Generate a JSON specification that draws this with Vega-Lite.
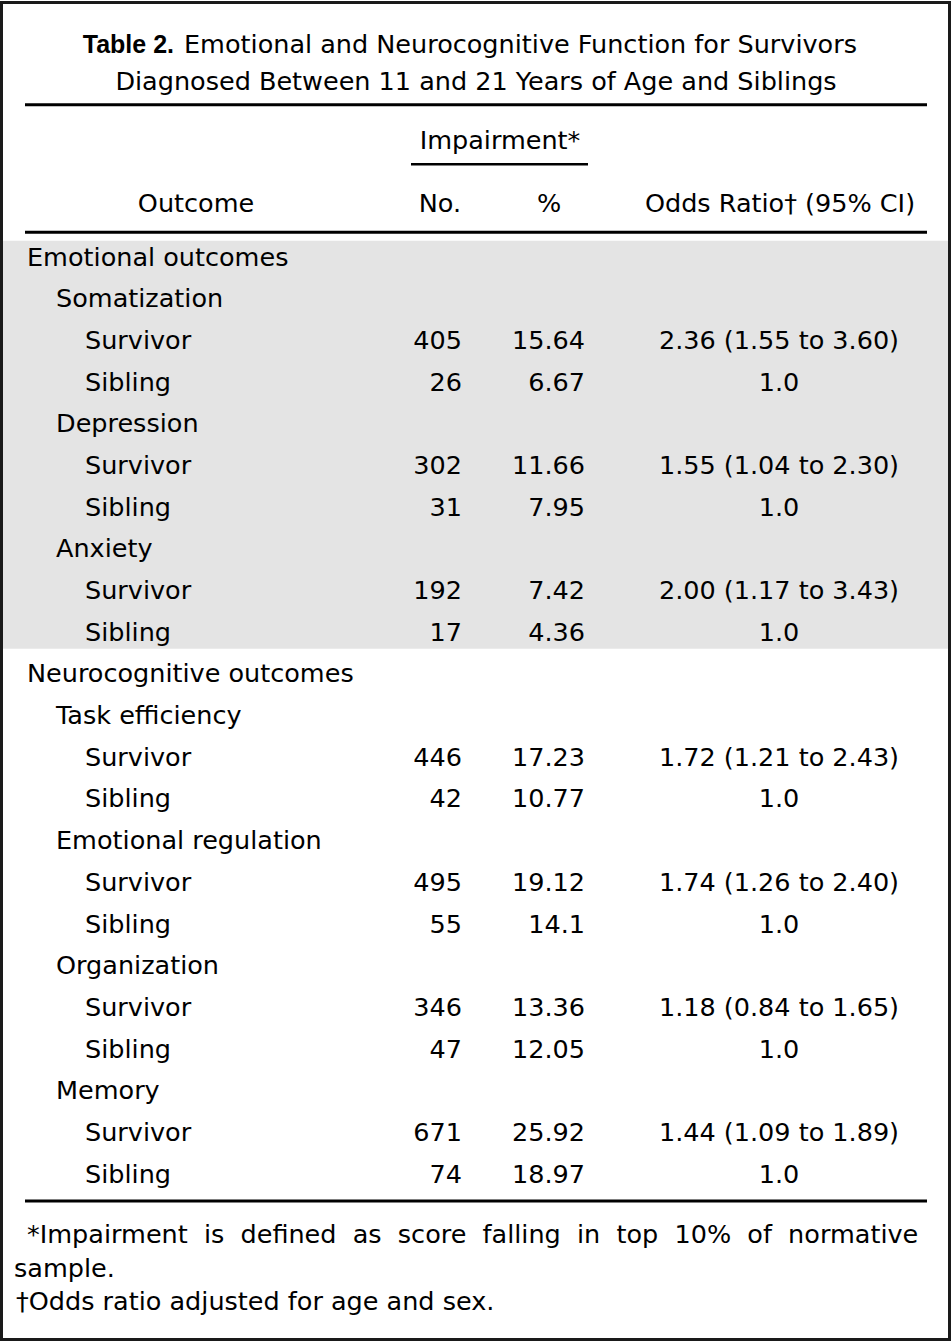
{
  "$schema": "https://vega.github.io/schema/vega-lite/v6.json",
  "width": 951,
  "height": 1341,
  "autosize": {"type": "fit", "contains": "padding"},
  "padding": 0,
  "background": "white",
  "config": {
    "view": {"stroke": null},
    "text": {"font": "DejaVu Sans", "fontSize": 25.5, "color": "#000", "baseline": "alphabetic"}
  },
  "datasets": {
    "table": [
      {"row": 0, "group": "Emotional", "level": 0, "label": "Emotional outcomes", "no": null, "pct": null, "or": null},
      {"row": 1, "group": "Emotional", "level": 1, "label": "Somatization", "no": null, "pct": null, "or": null},
      {"row": 2, "group": "Emotional", "level": 2, "label": "Survivor", "no": 405, "pct": 15.64, "or": "2.36 (1.55 to 3.60)"},
      {"row": 3, "group": "Emotional", "level": 2, "label": "Sibling", "no": 26, "pct": 6.67, "or": "1.0"},
      {"row": 4, "group": "Emotional", "level": 1, "label": "Depression", "no": null, "pct": null, "or": null},
      {"row": 5, "group": "Emotional", "level": 2, "label": "Survivor", "no": 302, "pct": 11.66, "or": "1.55 (1.04 to 2.30)"},
      {"row": 6, "group": "Emotional", "level": 2, "label": "Sibling", "no": 31, "pct": 7.95, "or": "1.0"},
      {"row": 7, "group": "Emotional", "level": 1, "label": "Anxiety", "no": null, "pct": null, "or": null},
      {"row": 8, "group": "Emotional", "level": 2, "label": "Survivor", "no": 192, "pct": 7.42, "or": "2.00 (1.17 to 3.43)"},
      {"row": 9, "group": "Emotional", "level": 2, "label": "Sibling", "no": 17, "pct": 4.36, "or": "1.0"},
      {"row": 10, "group": "Neurocognitive", "level": 0, "label": "Neurocognitive outcomes", "no": null, "pct": null, "or": null},
      {"row": 11, "group": "Neurocognitive", "level": 1, "label": "Task efficiency", "no": null, "pct": null, "or": null},
      {"row": 12, "group": "Neurocognitive", "level": 2, "label": "Survivor", "no": 446, "pct": 17.23, "or": "1.72 (1.21 to 2.43)"},
      {"row": 13, "group": "Neurocognitive", "level": 2, "label": "Sibling", "no": 42, "pct": 10.77, "or": "1.0"},
      {"row": 14, "group": "Neurocognitive", "level": 1, "label": "Emotional regulation", "no": null, "pct": null, "or": null},
      {"row": 15, "group": "Neurocognitive", "level": 2, "label": "Survivor", "no": 495, "pct": 19.12, "or": "1.74 (1.26 to 2.40)"},
      {"row": 16, "group": "Neurocognitive", "level": 2, "label": "Sibling", "no": 55, "pct": 14.1, "or": "1.0"},
      {"row": 17, "group": "Neurocognitive", "level": 1, "label": "Organization", "no": null, "pct": null, "or": null},
      {"row": 18, "group": "Neurocognitive", "level": 2, "label": "Survivor", "no": 346, "pct": 13.36, "or": "1.18 (0.84 to 1.65)"},
      {"row": 19, "group": "Neurocognitive", "level": 2, "label": "Sibling", "no": 47, "pct": 12.05, "or": "1.0"},
      {"row": 20, "group": "Neurocognitive", "level": 1, "label": "Memory", "no": null, "pct": null, "or": null},
      {"row": 21, "group": "Neurocognitive", "level": 2, "label": "Survivor", "no": 671, "pct": 25.92, "or": "1.44 (1.09 to 1.89)"},
      {"row": 22, "group": "Neurocognitive", "level": 2, "label": "Sibling", "no": 74, "pct": 18.97, "or": "1.0"}
    ]
  },
  "data": {"name": "table"},
  "resolve": {"scale": {"x": "independent"}},
  "layer": [
    {
      "transform": [
        {"filter": "datum.group === 'Emotional'"},
        {"aggregate": [{"op": "min", "field": "row", "as": "r0"}, {"op": "max", "field": "row", "as": "r1"}], "groupby": ["group"]}
      ],
      "mark": {"type": "rect", "fill": "#e4e4e4", "yOffset": -25, "y2Offset": 8},
      "encoding": {
        "x": {"datum": 0, "type": "quantitative", "scale": {"domain": [0, 951], "nice": false, "zero": false}, "axis": null},
        "x2": {"datum": 951},
        "y": {"field": "r0", "type": "quantitative", "scale": {"domain": [-6.3549, 25.8034], "reverse": true, "nice": false, "zero": false}, "axis": null},
        "y2": {"field": "r1"}
      }
    },
    {
      "mark": {"type": "text", "align": "left"},
      "encoding": {
        "x": {"field": "level", "type": "quantitative", "scale": {"domain": [0, 2], "range": [27, 85], "nice": false, "zero": false}, "axis": null},
        "y": {"field": "row", "type": "quantitative", "scale": {"domain": [-6.3549, 25.8034], "reverse": true, "nice": false, "zero": false}, "axis": null},
        "text": {"field": "label", "type": "nominal"}
      }
    },
    {
      "transform": [{"filter": "datum.no != null"}],
      "mark": {"type": "text", "align": "right"},
      "encoding": {
        "x": {"datum": 462, "type": "quantitative", "scale": {"domain": [0, 951], "nice": false, "zero": false}, "axis": null},
        "y": {"field": "row", "type": "quantitative", "axis": null},
        "text": {"field": "no", "type": "nominal"}
      }
    },
    {
      "transform": [{"filter": "datum.pct != null"}],
      "mark": {"type": "text", "align": "right"},
      "encoding": {
        "x": {"datum": 585, "type": "quantitative", "scale": {"domain": [0, 951], "nice": false, "zero": false}, "axis": null},
        "y": {"field": "row", "type": "quantitative", "axis": null},
        "text": {"field": "pct", "type": "nominal"}
      }
    },
    {
      "transform": [{"filter": "datum.or != null"}],
      "mark": {"type": "text", "align": "center"},
      "encoding": {
        "x": {"datum": 779, "type": "quantitative", "scale": {"domain": [0, 951], "nice": false, "zero": false}, "axis": null},
        "y": {"field": "row", "type": "quantitative", "axis": null},
        "text": {"field": "or", "type": "nominal"}
      }
    },
    {
      "data": {"values": [{"t": "Table 2."}]},
      "mark": {"type": "text", "align": "right", "font": "Liberation Sans", "fontWeight": "bold", "fontSize": 25},
      "encoding": {
        "x": {"datum": 174, "type": "quantitative", "scale": {"domain": [0, 951], "nice": false, "zero": false}, "axis": null},
        "y": {"datum": -5.115, "type": "quantitative", "axis": null},
        "text": {"field": "t", "type": "nominal"}
      }
    },
    {
      "data": {"values": [{"t": "Emotional and Neurocognitive Function for Survivors"}]},
      "mark": {"type": "text", "align": "left"},
      "encoding": {
        "x": {"datum": 184, "type": "quantitative", "scale": {"domain": [0, 951], "nice": false, "zero": false}, "axis": null},
        "y": {"datum": -5.115, "type": "quantitative", "axis": null},
        "text": {"field": "t", "type": "nominal"}
      }
    },
    {
      "data": {"values": [{"t": "Diagnosed Between 11 and 21 Years of Age and Siblings"}]},
      "mark": {"type": "text", "align": "center"},
      "encoding": {
        "x": {"datum": 476, "type": "quantitative", "scale": {"domain": [0, 951], "nice": false, "zero": false}, "axis": null},
        "y": {"datum": -4.213, "type": "quantitative", "axis": null},
        "text": {"field": "t", "type": "nominal"}
      }
    },
    {
      "data": {"values": [{"t": "Impairment*"}]},
      "mark": {"type": "text", "align": "center"},
      "encoding": {
        "x": {"datum": 500, "type": "quantitative", "scale": {"domain": [0, 951], "nice": false, "zero": false}, "axis": null},
        "y": {"datum": -2.806, "type": "quantitative", "axis": null},
        "text": {"field": "t", "type": "nominal"}
      }
    },
    {
      "data": {"values": [{"t": "Outcome"}]},
      "mark": {"type": "text", "align": "center"},
      "encoding": {
        "x": {"datum": 196, "type": "quantitative", "scale": {"domain": [0, 951], "nice": false, "zero": false}, "axis": null},
        "y": {"datum": -1.295, "type": "quantitative", "axis": null},
        "text": {"field": "t", "type": "nominal"}
      }
    },
    {
      "data": {"values": [{"t": "No."}]},
      "mark": {"type": "text", "align": "right"},
      "encoding": {
        "x": {"datum": 461, "type": "quantitative", "scale": {"domain": [0, 951], "nice": false, "zero": false}, "axis": null},
        "y": {"datum": -1.295, "type": "quantitative", "axis": null},
        "text": {"field": "t", "type": "nominal"}
      }
    },
    {
      "data": {"values": [{"t": "%"}]},
      "mark": {"type": "text", "align": "center"},
      "encoding": {
        "x": {"datum": 549, "type": "quantitative", "scale": {"domain": [0, 951], "nice": false, "zero": false}, "axis": null},
        "y": {"datum": -1.295, "type": "quantitative", "axis": null},
        "text": {"field": "t", "type": "nominal"}
      }
    },
    {
      "data": {"values": [{"t": "Odds Ratio† (95% CI)"}]},
      "mark": {"type": "text", "align": "center"},
      "encoding": {
        "x": {"datum": 780, "type": "quantitative", "scale": {"domain": [0, 951], "nice": false, "zero": false}, "axis": null},
        "y": {"datum": -1.295, "type": "quantitative", "axis": null},
        "text": {"field": "t", "type": "nominal"}
      }
    },
    {
      "data": {"values": [{"y": -3.866, "x0": 25, "x1": 927, "w": "thick"}, {"y": -0.803, "x0": 25, "x1": 927, "w": "thick"}, {"y": 22.446, "x0": 25, "x1": 927, "w": "thick"}]},
      "mark": {"type": "rule", "color": "#000", "strokeWidth": 3},
      "encoding": {
        "x": {"field": "x0", "type": "quantitative", "scale": {"domain": [0, 951], "nice": false, "zero": false}, "axis": null},
        "x2": {"field": "x1"},
        "y": {"field": "y", "type": "quantitative", "axis": null}
      }
    },
    {
      "data": {"values": [{"y": -2.439, "x0": 411, "x1": 588}]},
      "mark": {"type": "rule", "color": "#000", "strokeWidth": 2.5},
      "encoding": {
        "x": {"field": "x0", "type": "quantitative", "scale": {"domain": [0, 951], "nice": false, "zero": false}, "axis": null},
        "x2": {"field": "x1"},
        "y": {"field": "y", "type": "quantitative", "axis": null}
      }
    },
    {
      "data": {"values": [{"t": "*Impairment \u00a0is \u00a0defined \u00a0as \u00a0score \u00a0falling \u00a0in \u00a0top \u00a010% \u00a0of \u00a0normative"}]},
      "mark": {"type": "text", "align": "left"},
      "encoding": {
        "x": {"datum": 27, "type": "quantitative", "scale": {"domain": [0, 951], "nice": false, "zero": false}, "axis": null},
        "y": {"datum": 23.441, "type": "quantitative", "axis": null},
        "text": {"field": "t", "type": "nominal"}
      }
    },
    {
      "data": {"values": [{"t": "sample."}]},
      "mark": {"type": "text", "align": "left"},
      "encoding": {
        "x": {"datum": 14, "type": "quantitative", "scale": {"domain": [0, 951], "nice": false, "zero": false}, "axis": null},
        "y": {"datum": 24.269, "type": "quantitative", "axis": null},
        "text": {"field": "t", "type": "nominal"}
      }
    },
    {
      "data": {"values": [{"t": "†Odds ratio adjusted for age and sex."}]},
      "mark": {"type": "text", "align": "left"},
      "encoding": {
        "x": {"datum": 16, "type": "quantitative", "scale": {"domain": [0, 951], "nice": false, "zero": false}, "axis": null},
        "y": {"datum": 25.06, "type": "quantitative", "axis": null},
        "text": {"field": "t", "type": "nominal"}
      }
    },
    {
      "data": {"values": [{"frame": "border"}]},
      "mark": {"type": "rect", "fill": null, "stroke": "#1a1a1a", "strokeWidth": 3},
      "encoding": {
        "x": {"datum": 1.5, "type": "quantitative", "scale": {"domain": [0, 951], "nice": false, "zero": false}, "axis": null},
        "x2": {"datum": 949.5},
        "y": {"datum": -6.319, "type": "quantitative", "axis": null},
        "y2": {"datum": 25.767}
      }
    }
  ]
}
